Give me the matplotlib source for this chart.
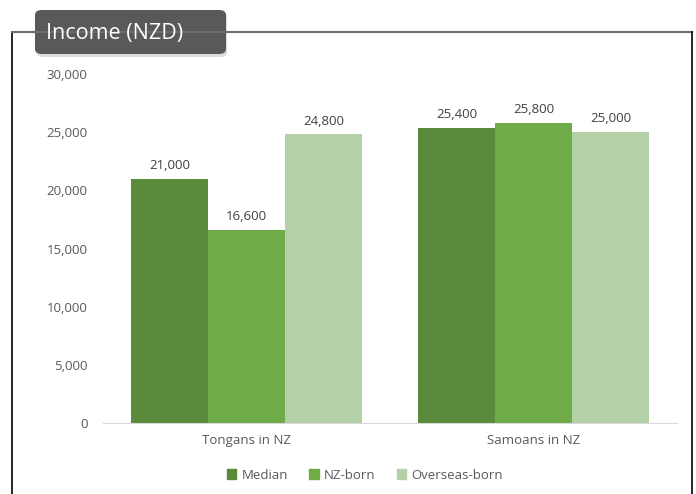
import matplotlib
matplotlib.use("Agg")
import matplotlib.pyplot as plt
from matplotlib.patches import FancyBboxPatch, Patch
from matplotlib.lines import Line2D
from matplotlib.ticker import FuncFormatter
import numpy as np

groups = ["Tongans in NZ", "Samoans in NZ"]
series = ["Median", "NZ-born", "Overseas-born"]
median = [21000, 25400]
nz_born = [16600, 25800]
overseas_born = [24800, 25000]
colors = ["#5A8B3A", "#6FAC47", "#B4D0A6"]

W, H = 696, 494
fig = plt.figure(figsize=(W / 100, H / 100), dpi=100)
plt.rcParams["font.family"] = ["Open Sans", "DejaVu Sans"]

ax = fig.add_axes([103 / W, 1 - 423 / H, (677 - 103) / W, (423 - 74) / H])

x = np.arange(len(groups))
width = 0.268
for i, (vals, col) in enumerate(zip([median, nz_born, overseas_born], colors)):
    pos = x + (i - 1) * width
    bars = ax.bar(pos, vals, width, color=col, label=series[i])
    for b, v in zip(bars, vals):
        ax.annotate(f"{v:,}", (b.get_x() + b.get_width() / 2, v),
                    xytext=(0, 5), textcoords="offset points",
                    ha="center", va="bottom", fontsize=9.5, color="#404040")

ax.set_xlim(-0.5, 1.5)
ax.set_ylim(0, 30000)
ax.set_yticks(np.arange(0, 30001, 5000))
ax.yaxis.set_major_formatter(FuncFormatter(lambda v, p: f"{int(v):,}"))
ax.set_xticks(x)
ax.set_xticklabels(groups)
for s in ["top", "right", "left"]:
    ax.spines[s].set_visible(False)
ax.spines["bottom"].set_color("#D9D9D9")
ax.tick_params(axis="both", length=0, labelsize=9.5, colors="#595959")
ax.tick_params(axis="y", pad=11)
ax.tick_params(axis="x", pad=8)

handles = [Patch(color=c, label=s) for c, s in zip(colors, series)]
fig.legend(handles=handles, loc="center", bbox_to_anchor=(365 / W, 1 - 475 / H),
           ncol=3, frameon=False, fontsize=9.5, handlelength=0.7, handleheight=0.7,
           handletextpad=0.4, columnspacing=1.6, labelcolor="#595959")

# outer frame lines
fig.add_artist(Line2D([12 / W, 12 / W], [0, 1 - 32 / H], color="black", lw=1.2))
fig.add_artist(Line2D([12 / W, 692 / W], [1 - 32 / H, 1 - 32 / H], color="#6B6B6B", lw=1.5))
fig.add_artist(Line2D([692 / W, 692 / W], [0, 1 - 32 / H], color="black", lw=1.2))

# title tab with shadow
shadow = FancyBboxPatch((37 / W, 1 - 57 / H), 190 / W, 44 / H,
                        boxstyle="round,pad=0,rounding_size=0.008",
                        transform=fig.transFigure, facecolor="#C8C8C8",
                        edgecolor="none", alpha=0.6)
fig.add_artist(shadow)
tab = FancyBboxPatch((35 / W, 1 - 54 / H), 191 / W, 44 / H,
                     boxstyle="round,pad=0,rounding_size=0.01",
                     transform=fig.transFigure, facecolor="#595959",
                     edgecolor="none")
fig.add_artist(tab)
fig.text(46 / W, 1 - 33 / H, "Income (NZD)", color="white", fontsize=15.5,
         ha="left", va="center")

fig.savefig("out.png", dpi=100)
